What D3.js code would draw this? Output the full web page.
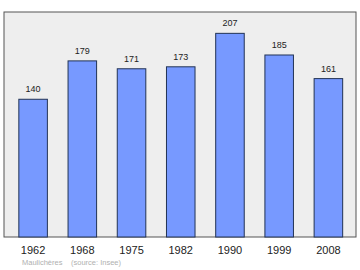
<!DOCTYPE html>
<html>
  <head>
    <meta charset="UTF-8">
    <title>Population</title>
    <script src="https://d3js.org/d3.v7.min.js"></script>
    <style>
      body { margin: 0; background: #fff; }
      text { font-family: "Liberation Sans", Arial, sans-serif; }
    </style>
  </head>
  <body>
    <svg id="chart" width="360" height="270"></svg>
    <script>
      // Data
      const years = ["1962", "1968", "1975", "1982", "1990", "1999", "2008"];
      const population = [140, 179, 171, 173, 207, 185, 161];
      const place = "Maulichères";
      const source = "(source: Insee)";

      const svg = d3.select("#chart");

      // Plot frame
      const frame = { left: 4, top: 12, right: 356, bottom: 237 };

      const x = d3.scaleBand()
        .domain(years)
        .range([8.5, 353])
        .paddingInner(0.42)
        .paddingOuter(0.21);

      const y = d3.scaleLinear()
        .domain([0, 228.7])
        .range([frame.bottom, frame.top]);

      svg.append("rect")
        .attr("x", frame.left)
        .attr("y", frame.top)
        .attr("width", frame.right - frame.left)
        .attr("height", frame.bottom - frame.top)
        .attr("fill", "#eeeeee")
        .attr("stroke", "#555")
        .attr("stroke-width", 1);

      // Bars
      svg.append("g")
        .selectAll("rect")
        .data(population)
        .join("rect")
        .attr("x", (d, i) => x(years[i]))
        .attr("y", d => y(d))
        .attr("width", x.bandwidth())
        .attr("height", d => y(0) - y(d))
        .attr("fill", "#7799ff")
        .attr("stroke", "#223355")
        .attr("stroke-width", 1);

      // Value labels
      svg.append("g")
        .selectAll("text")
        .data(population)
        .join("text")
        .attr("x", (d, i) => x(years[i]) + x.bandwidth() / 2)
        .attr("y", d => y(d) - 7)
        .attr("text-anchor", "middle")
        .attr("font-size", "9px")
        .attr("fill", "#222")
        .text(d => d);

      // Year axis labels
      svg.append("g")
        .selectAll("text")
        .data(years)
        .join("text")
        .attr("x", d => x(d) + x.bandwidth() / 2)
        .attr("y", 254)
        .attr("text-anchor", "middle")
        .attr("font-size", "11px")
        .attr("fill", "#222")
        .text(d => d);

      // Footer
      svg.append("text")
        .attr("x", 22)
        .attr("y", 265)
        .attr("font-size", "7.5px")
        .attr("fill", "#b0b0b0")
        .text(place);

      svg.append("text")
        .attr("x", 71)
        .attr("y", 265)
        .attr("font-size", "7.5px")
        .attr("fill", "#b0b0b0")
        .text(source);
    </script>
  </body>
</html>
